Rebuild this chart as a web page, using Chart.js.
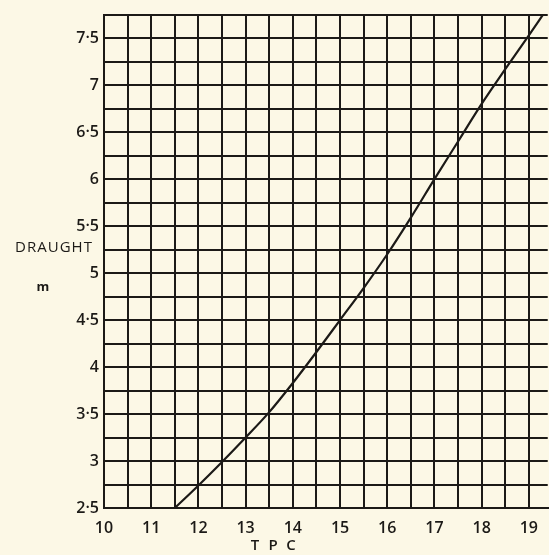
<!DOCTYPE html>
<html>
<head>
<meta charset="utf-8">
<script src="https://cdn.jsdelivr.net/npm/chart.js@4.4.1/dist/chart.umd.min.js"></script>
<style>
  html, body { margin: 0; padding: 0; background: #fcf8e6; }
  #wrap { width: 549px; height: 555px; }
</style>
</head>
<body>
<div id="wrap"><canvas id="tpcChart"></canvas></div>
<script>
// TPC against draught
const tpc     = [11.5, 12, 12.5, 13, 13.5, 14, 14.5, 15, 15.5, 16, 16.5, 17, 17.5, 18, 18.5, 19, 19.3];
const draught = [2.5, 2.74, 2.99, 3.25, 3.52, 3.83, 4.16, 4.5, 4.84, 5.2, 5.59, 6.0, 6.4, 6.8, 7.17, 7.53, 7.75];

const xTickLabels = ["10", "11", "12", "13", "14", "15", "16", "17", "18", "19"];
const yTickLabels = ["2·5", "3", "3·5", "4", "4·5", "5", "5·5", "6", "6·5", "7", "7·5"];

const ink = "#1c1a17";
const labelFont = { family: "'Open Sans', 'DejaVu Sans', sans-serif", size: 16, weight: "600" };

// axis captions sit outside the plot, horizontal, like the original sheet
const captions = {
  id: "captions",
  afterDraw(chart) {
    const { ctx, scales } = chart;
    ctx.save();
    ctx.fillStyle = ink;
    ctx.textBaseline = "middle";
    ctx.textAlign = "center";
    ctx.font = "500 15px 'Open Sans', 'DejaVu Sans', sans-serif";
    ctx.letterSpacing = "1px";
    ctx.fillText("DRAUGHT", 54, scales.y.getPixelForValue(5.27));
    ctx.letterSpacing = "0px";
    ctx.font = "700 13px 'Open Sans', 'DejaVu Sans', sans-serif";
    ctx.fillText("m", 43, scales.y.getPixelForValue(4.85));
    ctx.font = "600 15px 'Open Sans', 'DejaVu Sans', sans-serif";
    ["T", "P", "C"].forEach((ch, i) => ctx.fillText(ch, 255 + i * 18, 546));
    ctx.restore();
  }
};

new Chart(document.getElementById("tpcChart"), {
  type: "line",
  data: {
    datasets: [{
      data: tpc.map((t, i) => ({ x: t, y: draught[i] })),
      borderColor: ink,
      borderWidth: 2.2,
      pointRadius: 0,
      cubicInterpolationMode: "monotone",
      fill: false
    }]
  },
  options: {
    responsive: true,
    maintainAspectRatio: false,
    animation: false,
    layout: { padding: { top: 10, right: 0, left: 0, bottom: 0 } },
    plugins: { legend: { display: false }, tooltip: { enabled: false } },
    scales: {
      x: {
        type: "linear",
        min: 10,
        max: 19.4,
        afterFit: s => { s.height = 47; },
        ticks: {
          stepSize: 0.5,
          includeBounds: false,
          autoSkip: false,
          maxRotation: 0,
          padding: 11,
          color: ink,
          font: labelFont,
          callback: v => Number.isInteger(v) ? xTickLabels[v - 10] : ""
        },
        grid: { color: ink, lineWidth: 2, drawTicks: false },
        border: { color: ink, width: 2 }
      },
      y: {
        type: "linear",
        min: 2.5,
        max: 7.75,
        afterFit: s => { s.width = 104; },
        ticks: {
          stepSize: 0.25,
          autoSkip: false,
          padding: 5,
          color: ink,
          font: labelFont,
          callback: v => (Math.round(v * 4) % 2 === 0) ? yTickLabels[Math.round((v - 2.5) * 2)] : ""
        },
        grid: { color: ink, lineWidth: 2, drawTicks: false },
        border: { color: ink, width: 2 }
      }
    }
  },
  plugins: [captions]
});
</script>
</body>
</html>
